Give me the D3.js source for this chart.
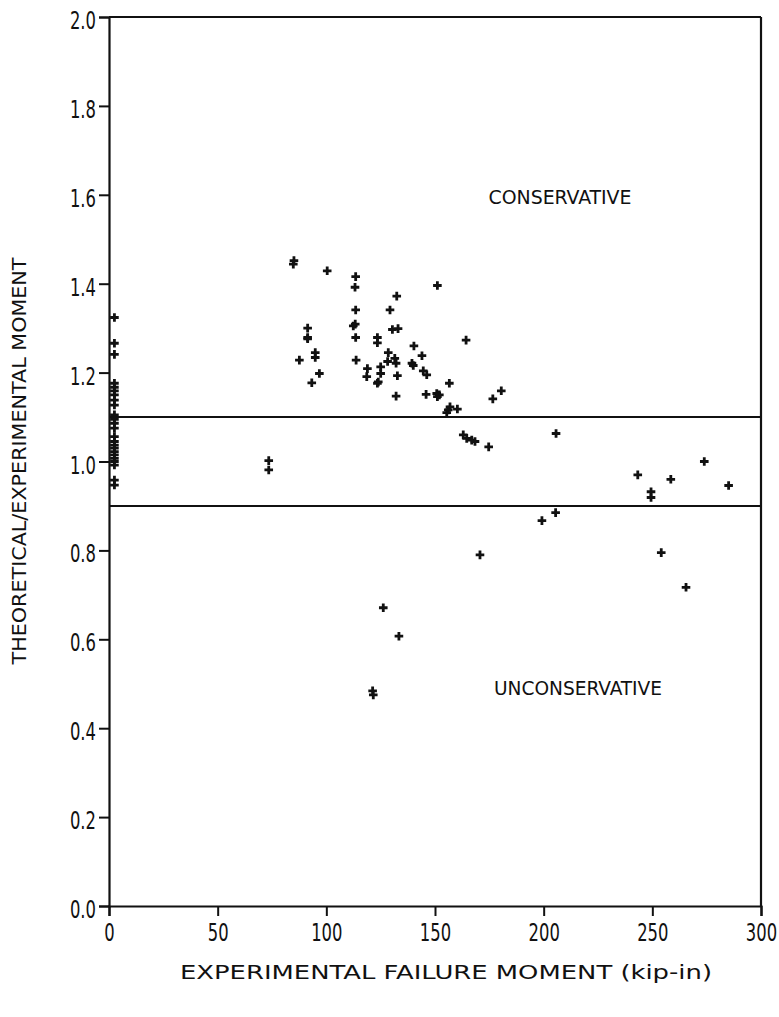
<!DOCTYPE html>
<html><head><meta charset="utf-8">
<script src="https://cdn.jsdelivr.net/npm/d3@7"></script>
<style>body{margin:0;background:#fff}</style>
</head><body>
<svg id="c" width="779" height="1017"></svg>
<script>
// ---- data ----
const failureMoment = [
  2.5,2.5,2.5,2.5,2.5,2.5,2.5,2.5,2.5,2.5,2.5,2.5,2.5,2.5,2.5,2.5,2.5,2.5,2.5,2.5,2.5,2.5,2.5,2.5,
  85.1,84.8,100.4,113.5,113.2,113.5,112.4,113.3,113.5,113.7,151.1,132.4,129.3,130.4,133.0,
  91.4,91.4,91.4,94.9,94.9,87.6,96.8,93.3,123.5,123.5,118.9,118.6,123.9,123.5,125.0,125.0,
  128.5,128.2,131.5,132.1,132.7,132.1,140.3,144.0,139.4,140.0,144.6,146.2,145.9,150.8,152.0,
  151.1,156.6,164.3,156.9,156.1,160.3,155.4,176.6,180.5,163.0,164.6,166.9,168.4,174.7,205.7,
  243.3,249.4,249.4,258.5,273.9,285.1,205.5,199.2,170.7,254.1,265.5,73.5,73.5,126.2,133.4,121.3,121.6
];
const momentRatio = [
  1.324,1.266,1.241,1.176,1.167,1.159,1.150,1.138,1.127,1.105,1.095,1.086,1.075,1.056,1.045,1.037,1.030,1.022,1.015,1.007,1.000,0.992,0.958,0.947,
  1.452,1.444,1.429,1.416,1.392,1.341,1.305,1.309,1.279,1.228,1.396,1.372,1.341,1.297,1.299,
  1.300,1.279,1.276,1.245,1.234,1.228,1.198,1.177,1.279,1.267,1.209,1.191,1.179,1.176,1.213,1.198,
  1.245,1.225,1.232,1.221,1.193,1.147,1.260,1.238,1.221,1.216,1.204,1.195,1.151,1.153,1.150,
  1.146,1.176,1.273,1.123,1.116,1.118,1.110,1.141,1.159,1.060,1.052,1.048,1.045,1.033,1.063,
  0.970,0.932,0.919,0.960,1.000,0.946,0.885,0.867,0.790,0.795,0.717,1.002,0.981,0.671,0.607,0.484,0.475
];
const xTicks = [0,50,100,150,200,250,300];
const yTicks = [0,0.2,0.4,0.6,0.8,1.0,1.2,1.4,1.6,1.8,2.0];
const boundLines = [1.1, 0.9];
const regionLabels = ["CONSERVATIVE","UNCONSERVATIVE"];
const xTitle = "EXPERIMENTAL FAILURE MOMENT (kip-in)";
const yTitle = "THEORETICAL/EXPERIMENTAL MOMENT";

// ---- layout ----
const svg = d3.select("#c");
const L = 109, R = 761, T = 17, B = 906;
const x = d3.scaleLinear().domain([0,300]).range([L,R]);
const y = d3.scaleLinear().domain([0,2]).range([B,T]);
const ink = "#111";
const tickFont = '"DejaVu Sans Condensed","Liberation Sans Narrow",sans-serif';
const sx = 0.76;

// axes
const gx = svg.append("g").attr("transform",`translate(0,${B})`)
  .call(d3.axisBottom(x).tickValues(xTicks).tickFormat(d3.format("d")).tickSize(10).tickPadding(6));
const gy = svg.append("g").attr("transform",`translate(${L},0)`)
  .call(d3.axisLeft(y).tickValues(yTicks).tickFormat(d3.format(".1f")).tickSize(10).tickPadding(3));
[gx,gy].forEach(g=>{
  g.select(".domain").attr("stroke",ink).attr("stroke-width",2.2);
  g.selectAll(".tick line").attr("stroke",ink).attr("stroke-width",2);
  g.selectAll(".tick text").attr("fill",ink).attr("font-family",tickFont).attr("font-size",24)
    .attr("transform",`scale(${sx},1)`);
});
gy.selectAll(".tick text").attr("dy","0.48em").attr("x",-13/sx);
gx.selectAll(".tick text").attr("dy","0.78em");

// frame top and right
svg.append("line").attr("x1",L).attr("x2",R).attr("y1",T).attr("y2",T).attr("stroke",ink).attr("stroke-width",2);
svg.append("line").attr("x1",R).attr("x2",R).attr("y1",T).attr("y2",B).attr("stroke",ink).attr("stroke-width",2.2);

// bound lines
svg.selectAll("line.bound").data(boundLines).join("line").attr("class","bound")
  .attr("x1",L).attr("x2",R).attr("y1",d=>y(d)).attr("y2",d=>y(d))
  .attr("stroke",ink).attr("stroke-width",2);

// points
svg.append("g").selectAll("path").data(failureMoment.map((v,i)=>[v,momentRatio[i]])).join("path")
  .attr("transform",d=>`translate(${x(d[0])},${y(d[1])})`)
  .attr("d","M-4.3,0H4.3M0,-4.3V4.3")
  .attr("stroke",ink).attr("stroke-width",2.8).attr("fill","none");

// region labels
const regionFont = '"DejaVu Sans Condensed","Liberation Sans Narrow",sans-serif';
svg.append("text").text(regionLabels[0]).attr("x",x(207.5)).attr("y",y(1.595)).attr("dy","0.36em")
  .attr("text-anchor","middle").attr("font-family",regionFont).attr("font-size",19)
  .attr("textLength",143).attr("lengthAdjust","spacingAndGlyphs").attr("fill",ink);
svg.append("text").text(regionLabels[1]).attr("x",x(215.8)).attr("y",y(0.49)).attr("dy","0.36em")
  .attr("text-anchor","middle").attr("font-family",regionFont).attr("font-size",19)
  .attr("textLength",168).attr("lengthAdjust","spacingAndGlyphs").attr("fill",ink);

// axis titles
const titleFont = '"DejaVu Sans","Liberation Sans",sans-serif';
svg.append("text").text(xTitle).attr("x",446).attr("y",979)
  .attr("text-anchor","middle").attr("font-family",titleFont).attr("font-size",20)
  .attr("textLength",532).attr("lengthAdjust","spacingAndGlyphs").attr("fill",ink);
svg.append("text").text(yTitle).attr("transform","translate(26,461) rotate(-90)")
  .attr("text-anchor","middle").attr("font-family",titleFont).attr("font-size",19)
  .attr("textLength",407).attr("lengthAdjust","spacingAndGlyphs").attr("fill",ink);
</script>
</body></html>
